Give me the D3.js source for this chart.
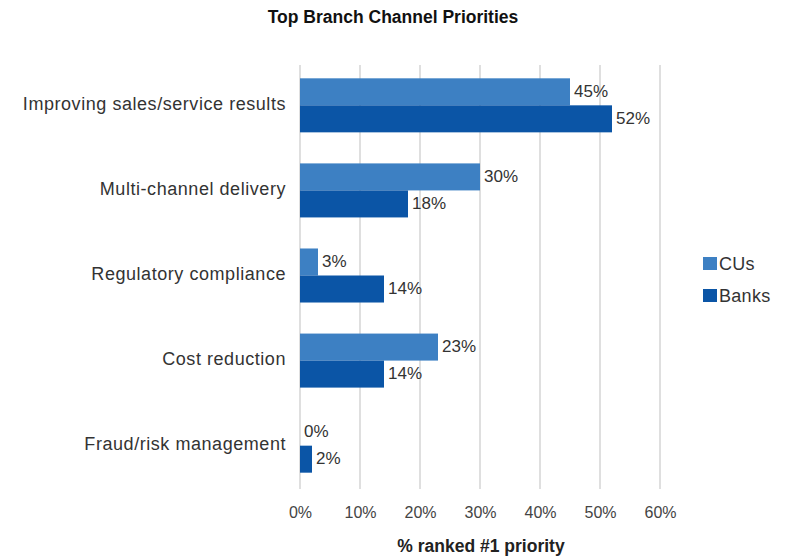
<!DOCTYPE html>
<html>
<head>
<meta charset="utf-8">
<script src="https://cdn.jsdelivr.net/npm/d3@7"></script>
<style>
  html, body { margin: 0; padding: 0; background: #fff; }
  svg { display: block; font-family: Arial, "Liberation Sans", sans-serif; }
</style>
</head>
<body>
<svg id="chart" width="786" height="557"></svg>
<script>
// Survey results: share of respondents ranking each item as #1 priority
const categories = [
  "Improving sales/service results",
  "Multi-channel delivery",
  "Regulatory compliance",
  "Cost reduction",
  "Fraud/risk management"
];
const seriesNames = ["CUs", "Banks"];
const cuValues = [45, 30, 3, 23, 0];
const bankValues = [52, 18, 14, 14, 2];
const tickValues = [0, 10, 20, 30, 40, 50, 60];

const colors = { CUs: "#3d80c3", Banks: "#0b55a6" };
const textColor = "#333";

const rows = categories.map((c, i) => ({
  category: c,
  CUs: cuValues[i],
  Banks: bankValues[i]
}));

const svg = d3.select("#chart");
const plot = { left: 300, right: 660, top: 63, bottom: 488 };

const x = d3.scaleLinear().domain([0, 60]).range([plot.left, plot.right]);
const y = d3.scaleBand().domain(categories).range([plot.top, plot.bottom]).paddingInner(0.365).paddingOuter(0.18);
const ySub = d3.scaleBand().domain(seriesNames).range([0, y.bandwidth()]);

// Title
svg.append("text")
  .attr("x", 393).attr("y", 23)
  .attr("text-anchor", "middle")
  .attr("font-size", 17.5).attr("font-weight", "bold")
  .attr("fill", "#111")
  .text("Top Branch Channel Priorities");

// Vertical gridlines
svg.append("g")
  .selectAll("line")
  .data(tickValues)
  .join("line")
  .attr("x1", d => x(d)).attr("x2", d => x(d))
  .attr("y1", 65).attr("y2", 489)
  .attr("stroke", "#d4d4d4").attr("stroke-width", 1.5);

// X axis tick labels
const xAxis = d3.axisBottom(x).tickValues(tickValues).tickFormat(d => d + "%").tickSize(0).tickPadding(0);
const xg = svg.append("g").attr("transform", "translate(0,507)").call(xAxis);
xg.select(".domain").remove();
xg.selectAll("text")
  .attr("font-size", 16).attr("fill", "#444")
  .attr("font-family", "Arial, 'Liberation Sans', sans-serif");

// X axis title
svg.append("text")
  .attr("x", 481).attr("y", 552)
  .attr("text-anchor", "middle")
  .attr("font-size", 17.5).attr("font-weight", "bold")
  .attr("fill", "#222")
  .text("% ranked #1 priority");

// Category labels
const yAxis = d3.axisLeft(y).tickSize(0).tickPadding(0);
const yg = svg.append("g").attr("transform", "translate(286,-1)").call(yAxis);
yg.select(".domain").remove();
yg.selectAll("text")
  .attr("font-size", 18).attr("letter-spacing", 0.55).attr("fill", textColor)
  .attr("font-family", "Arial, 'Liberation Sans', sans-serif");

// Bars
const groups = svg.append("g")
  .selectAll("g")
  .data(rows)
  .join("g")
  .attr("transform", d => `translate(0,${y(d.category)})`);

groups.selectAll("rect")
  .data(d => seriesNames.map(s => ({ key: s, value: d[s] })))
  .join("rect")
  .attr("x", x(0))
  .attr("y", d => ySub(d.key))
  .attr("width", d => x(d.value) - x(0))
  .attr("height", ySub.bandwidth())
  .attr("fill", d => colors[d.key]);

// Value labels
groups.selectAll("text.val")
  .data(d => seriesNames.map(s => ({ key: s, value: d[s] })))
  .join("text")
  .attr("class", "val")
  .attr("x", d => x(d.value) + 4)
  .attr("y", d => ySub(d.key) + ySub.bandwidth() / 2 - 1)
  .attr("dy", "0.35em")
  .attr("font-size", 17)
  .attr("fill", textColor)
  .text(d => d.value + "%");

// Legend
const legend = svg.append("g").attr("transform", "translate(703,257)");
seriesNames.forEach((s, i) => {
  const g = legend.append("g").attr("transform", `translate(0,${i * 32})`);
  g.append("rect").attr("width", 14).attr("height", 13).attr("fill", colors[s]);
  g.append("text").attr("x", 16).attr("y", 13).attr("font-size", 18).attr("letter-spacing", 0.3)
    .attr("fill", textColor).text(s);
});
</script>
</body>
</html>
